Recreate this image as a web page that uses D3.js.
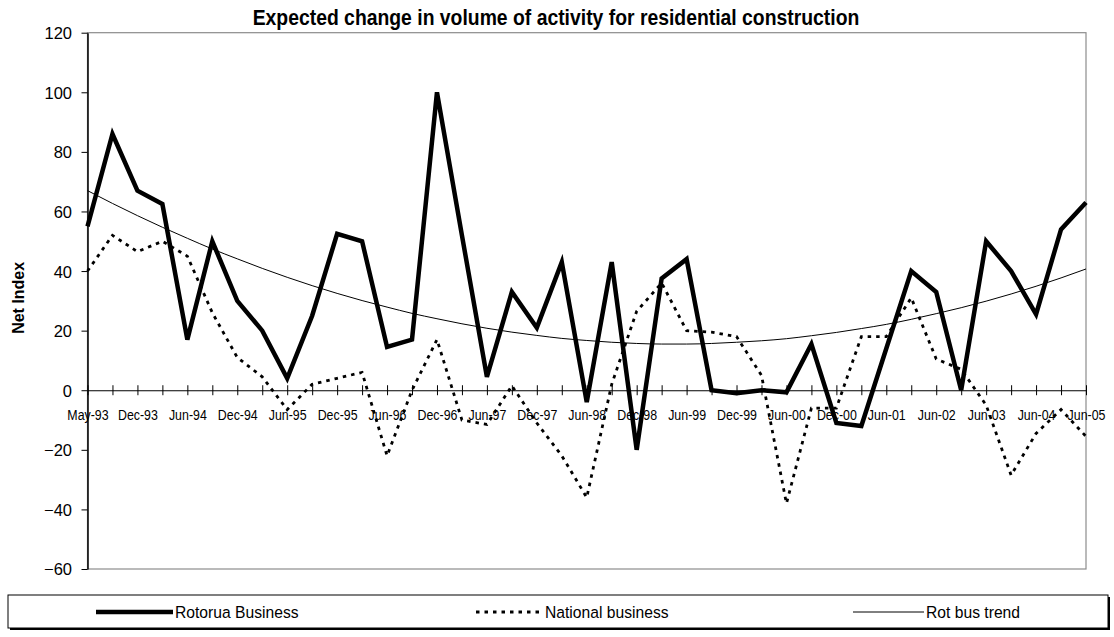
<!DOCTYPE html>
<html>
<head>
<meta charset="utf-8">
<script src="https://cdn.jsdelivr.net/npm/d3@7"></script>
<style>
  html, body { margin: 0; padding: 0; background: #fff; }
  svg { display: block; }
  .reg { font-family: "Liberation Sans", Arial, sans-serif; }
</style>
</head>
<body>
<svg id="chart" width="1114" height="637"></svg>
<script>
const categories = ["May-93","Sep-93","Dec-93","Mar-94","Jun-94","Sep-94","Dec-94","Mar-95","Jun-95","Sep-95",
  "Dec-95","Mar-96","Jun-96","Sep-96","Dec-96","Mar-97","Jun-97","Sep-97","Dec-97","Mar-98",
  "Jun-98","Sep-98","Dec-98","Mar-99","Jun-99","Sep-99","Dec-99","Mar-00","Jun-00","Sep-00",
  "Dec-00","Mar-01","Jun-01","Dec-01","Jun-02","Dec-02","Jun-03","Dec-03","Jun-04","Dec-04","Jun-05"];
const rotoruaBusiness = [55,86,67,62.5,17,50,30,20,4,25,52.5,50,14.5,17,100,52,4.5,33,21,43,
  -4,43,-20,37.5,44,0,-1,0,-0.7,15.5,-11,-12,14,40,33,0,50,40,25.5,54,63];
const nationalBusiness = [40,52,46.5,50,45,26,11,4.5,-6.5,2,4,6,-22,0,17,-10,-11.5,1.5,-11,-22,
  -36,2,26.5,36,20,19.5,18,5,-38,-6,-6,18,18,31,10.5,7,-5,-28.5,-14.5,-6.5,-15.5];
const rotBusTrend = [67.0,62.7,58.6,54.7,51.0,47.4,44.1,40.9,37.9,35.1,32.5,30.1,27.9,25.8,24.0,22.3,20.8,19.5,18.4,17.4,
  16.7,16.1,15.7,15.5,15.5,15.7,16.1,16.6,17.3,18.3,19.4,20.7,22.1,23.8,25.7,27.7,29.9,32.3,34.9,37.7,40.7];
const yTicks = [-60,-40,-20,0,20,40,60,80,100,120];
const title = "Expected change in volume of activity for residential construction";
const yTitle = "Net Index";
const seriesNames = ["Rotorua Business","National business","Rot bus trend"];

const svg = d3.select("#chart");
const L = 87.5, R = 1086, T = 32.7, B = 569;
const x = d3.scalePoint().domain(categories).range([L, R]);
const y = d3.scaleLinear().domain([-60, 120]).range([B, T]);

// plot area border
svg.append("rect").attr("x", L).attr("y", T).attr("width", R - L).attr("height", B - T)
  .attr("fill", "none").attr("stroke", "#8c8c8c").attr("stroke-width", 1.2);

// y axis
const yAxis = svg.append("g").attr("transform", `translate(${L},0)`)
  .call(d3.axisLeft(y).tickValues(yTicks).tickSize(6).tickSizeOuter(0).tickFormat(d3.format("d")));
yAxis.select(".domain").attr("stroke", "#000").attr("stroke-width", 1.5);
yAxis.selectAll(".tick line").attr("stroke", "#000").attr("stroke-width", 1);
yAxis.selectAll(".tick text").attr("class", "reg").attr("x", -15.5).attr("dy", "0.36em")
  .style("font-size", "16.5px").attr("fill", "#000");

// x axis at zero
const xAxis = svg.append("g").attr("transform", `translate(0,${y(0)})`)
  .call(d3.axisBottom(x).tickSize(5).tickSizeOuter(0)
    .tickFormat((d, i) => i % 2 === 0 ? d : ""));
xAxis.select(".domain").attr("stroke", "#000").attr("stroke-width", 1.2);
xAxis.selectAll(".tick line").attr("y1", -5).attr("y2", 5).attr("stroke", "#000").attr("stroke-width", 1);
xAxis.selectAll(".tick text").attr("class", "reg").attr("y", 30).attr("dy", null)
  .attr("transform", "scale(0.8,1)")
  .style("font-size", "15.5px").attr("fill", "#000");

const line = d3.line().x((d, i) => x(categories[i])).y(d => y(d));

// trend
svg.append("path").datum(rotBusTrend).attr("d", line.curve(d3.curveMonotoneX))
  .attr("fill", "none").attr("stroke", "#000").attr("stroke-width", 1);
line.curve(d3.curveLinear);
// national
svg.append("path").datum(nationalBusiness).attr("d", line)
  .attr("fill", "none").attr("stroke", "#000").attr("stroke-width", 2.8)
  .attr("stroke-dasharray", "3.5,5");
// rotorua
svg.append("path").datum(rotoruaBusiness).attr("d", line)
  .attr("fill", "none").attr("stroke", "#000").attr("stroke-width", 4.5)
  .attr("stroke-linejoin", "miter").attr("stroke-miterlimit", 4);

// title
svg.append("text").attr("class", "reg").attr("transform", "translate(556,25) scale(0.88,1)")
  .attr("text-anchor", "middle").style("font-size", "22px").style("font-weight", "bold")
  .text(title);

// y title
svg.append("text").attr("class", "reg")
  .attr("transform", `translate(24,${(T + B) / 2 - 3}) rotate(-90)`)
  .attr("text-anchor", "middle").style("font-size", "16px").style("font-weight", "bold")
  .text(yTitle);

// legend
const lg = svg.append("g");
lg.append("rect").attr("x", 10).attr("y", 597).attr("width", 1100).attr("height", 33)
  .attr("fill", "#000");
lg.append("rect").attr("x", 8).attr("y", 595).attr("width", 1100).attr("height", 33)
  .attr("fill", "#fff").attr("stroke", "#000").attr("stroke-width", 1);
const ly = 612;
const items = [
  {x0: 96, x1: 173, w: 4.5, dash: null},
  {x0: 476, x1: 543, w: 2.8, dash: "3.5,5"},
  {x0: 853, x1: 924, w: 1, dash: null}
];
items.forEach((it, i) => {
  lg.append("line").attr("x1", it.x0).attr("x2", it.x1).attr("y1", ly).attr("y2", ly)
    .attr("stroke", "#000").attr("stroke-width", it.w).attr("stroke-dasharray", it.dash);
  lg.append("text").attr("class", "reg")
    .attr("transform", `translate(${it.x1 + 2},${ly}) scale(0.95,1)`).attr("dy", "0.36em")
    .style("font-size", "16.5px").text(seriesNames[i]);
});
</script>
</body>
</html>
